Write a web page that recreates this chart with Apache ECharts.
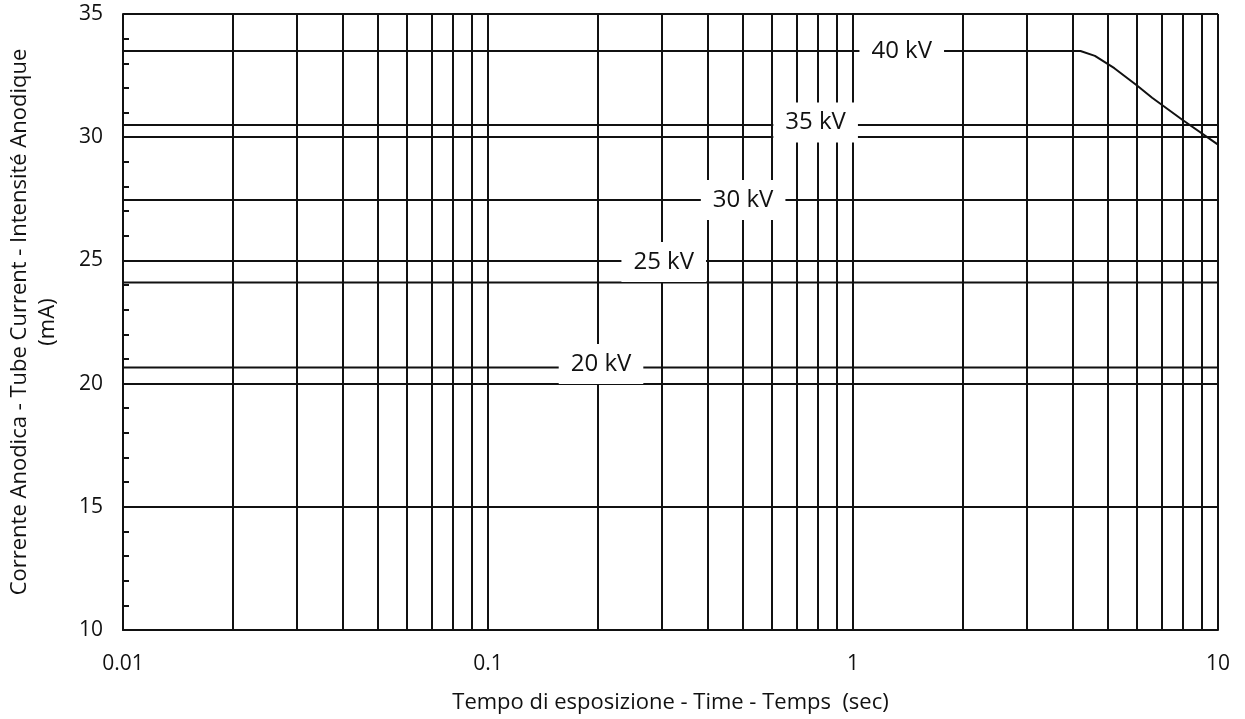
<!DOCTYPE html>
<html>
<head>
<meta charset="utf-8">
<script src="https://cdn.jsdelivr.net/npm/echarts@6/dist/echarts.min.js"></script>
<style>
html,body{margin:0;padding:0;background:#fff;}
#c{width:1245px;height:719px;}
</style>
</head>
<body>
<div id="c"></div>
<script>
// Data
var gridTimes = [0.02,0.03,0.04,0.05,0.06,0.07,0.08,0.09,0.2,0.3,0.4,0.5,0.6,0.7,0.8,0.9,2,3,4,5,6,7,8,9];
var seriesNames = ['20 kV','25 kV','30 kV','35 kV','40 kV'];
var kv20 = [[0.01,20.65],[10,20.65]];
var kv25 = [[0.01,24.1],[10,24.1]];
var kv30 = [[0.01,27.45],[10,27.45]];
var kv35 = [[0.01,30.5],[10,30.5]];
var kv40 = [[0.01,33.5],[4.2,33.5],[4.6,33.3],[5.2,32.8],[6.0,32.1],[6.6,31.6],[8,30.7],[10,29.7]];
var labelPos = [[0.204,20.8],[0.303,24.93],[0.5,27.45],[0.79,30.6],[1.36,33.5]];
var xTickLabels = {0.01:'0.01',0.1:'0.1',1:'1',10:'10'};

var FONT = 'Open Sans';
var LINE = '#111';
var LW = 2;

var seriesData = [kv20,kv25,kv30,kv35,kv40];
var series = [{
  type:'line', data:[], silent:true, z:1,
  markLine:{
    silent:true, symbol:['none','none'], z:1,
    label:{show:false},
    lineStyle:{color:LINE,width:LW,type:'solid'},
    emphasis:{disabled:true},
    data: gridTimes.map(function(v){return {xAxis:v};})
  }
}];
seriesNames.forEach(function(n,i){
  series.push({
    name:n, type:'line', data:seriesData[i], showSymbol:false, symbol:'none',
    lineStyle:{color:LINE,width:LW}, z:3, silent:true,
    markPoint:{
      z:10, symbol:'rect', symbolSize:0, silent:true,
      label:{show:true, position:'inside', formatter:n, fontFamily:FONT, fontSize:24, color:'#111',
             backgroundColor:'#fff', padding:[8,12,8,12]},
      data:[{coord:labelPos[i]}]
    }
  });
});

var chart = echarts.init(document.getElementById('c'));
chart.setOption({
  animation:false,
  backgroundColor:'#fff',
  grid:{left:123,right:27,top:14,bottom:89,containLabel:false,outerBoundsMode:'none'},
  xAxis:{
    type:'log', logBase:10, min:0.01, max:10,
    name:'Tempo di esposizione - Time - Temps  (sec)',
    nameLocation:'middle', nameGap:62,
    nameTextStyle:{fontFamily:FONT,fontSize:22,color:'#111'},
    axisLine:{show:true,lineStyle:{color:LINE,width:LW}},
    axisTick:{show:true,inside:true,length:6,lineStyle:{color:LINE,width:LW}},
    axisLabel:{fontFamily:FONT,fontSize:21,color:'#111',margin:24,
      formatter:function(v){var k=Math.round(Math.log10(v)); return xTickLabels[Math.pow(10,k)] || String(v);}},
    splitLine:{show:true,lineStyle:{color:LINE,width:LW}}
  },
  yAxis:{
    type:'value', min:10, max:35, interval:5,
    name:'Corrente Anodica - Tube Current - Intensité Anodique\n(mA)',
    nameLocation:'middle', nameGap:61, nameRotate:90,
    nameTextStyle:{fontFamily:FONT,fontSize:22,color:'#111',lineHeight:28},
    axisLine:{show:true,lineStyle:{color:LINE,width:LW}},
    axisTick:{show:true,inside:true,length:7,lineStyle:{color:LINE,width:LW}},
    minorTick:{show:true,splitNumber:5,length:6,lineStyle:{color:LINE,width:LW}},
    axisLabel:{fontFamily:FONT,fontSize:21,color:'#111',margin:20},
    splitLine:{show:true,lineStyle:{color:LINE,width:LW}}
  },
  series:series
});
</script>
</body>
</html>
